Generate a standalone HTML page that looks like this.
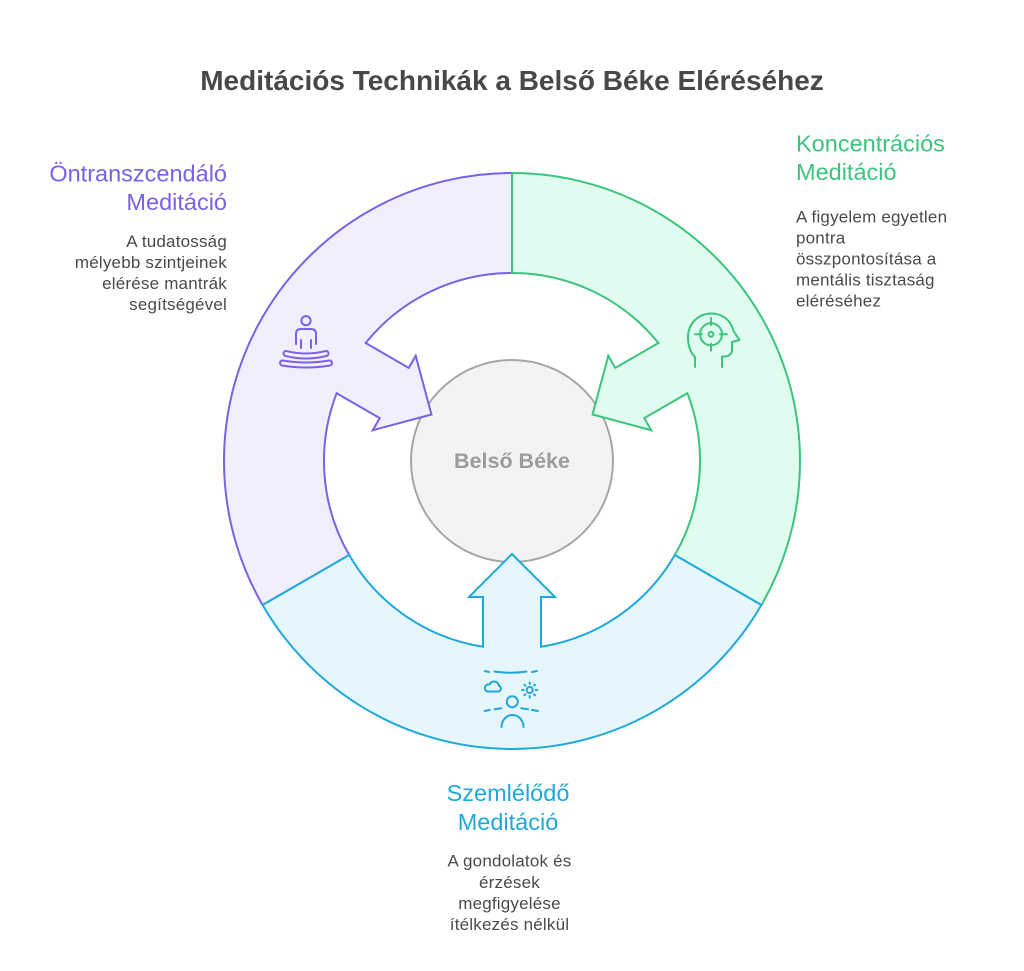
<!DOCTYPE html>
<html>
<head>
<meta charset="utf-8">
<style>
  html,body{margin:0;padding:0;background:#ffffff;}
  svg{display:block;}
  text{font-family:"Liberation Sans", Arial, sans-serif;}
</style>
</head>
<body>
<svg width="1024" height="971" viewBox="0 0 1024 971" xmlns="http://www.w3.org/2000/svg">
  <rect width="1024" height="971" fill="#ffffff"/>

  <!-- Title -->
  <text x="512" y="90" text-anchor="middle" font-size="28" font-weight="bold" fill="#484848">Meditációs Technikák a Belső Béke Eléréséhez</text>

  <!-- Center circle -->
  <circle cx="512" cy="461" r="101" fill="#F3F3F3" stroke="#A6A6A6" stroke-width="2"/>

  <!-- Purple segment -->
  <path d="M 512 173 A 288 288 0 0 0 262.6 605 L 349.2 555 A 188 188 0 0 1 336.64 393.2 L 379.72 418.11 L 372.72 430.24 L 431.46 414.5 L 415.72 355.76 L 408.72 367.89 L 365.64 343.0 A 188 188 0 0 1 512 273 Z"
        fill="#F1EEFD" stroke="#7B60E8" stroke-width="2" stroke-linejoin="miter"/>

  <!-- Green segment -->
  <path d="M 512 173 A 288 288 0 0 1 761.4 605 L 674.8 555 A 188 188 0 0 0 687.36 393.2 L 644.28 418.11 L 651.28 430.24 L 592.54 414.5 L 608.28 355.76 L 615.28 367.89 L 658.36 343.0 A 188 188 0 0 0 512 273 Z"
        fill="#E0FBEF" stroke="#3CC47E" stroke-width="2" stroke-linejoin="miter"/>

  <!-- Blue segment -->
  <path d="M 262.6 605 A 288 288 0 0 0 761.4 605 L 674.8 555 A 188 188 0 0 1 541 646.75 L 541 597 L 555 597 L 512 554 L 469 597 L 483 597 L 483 646.75 A 188 188 0 0 1 349.2 555 Z"
        fill="#E6F6FD" stroke="#1DA9D9" stroke-width="2" stroke-linejoin="miter"/>

  <!-- Center label -->
  <text x="512" y="468" text-anchor="middle" font-size="21.5" font-weight="bold" fill="#9C9C9C">Belső Béke</text>

  <!-- Purple icon -->
  <g fill="none" stroke="#7B60E8" stroke-width="2" stroke-linecap="round" stroke-linejoin="round">
    <circle cx="306" cy="320.7" r="4.6"/>
    <path d="M 296 344 V 334 Q 296 329 301 329 H 311 Q 316 329 316 334 V 344"/>
    <path d="M 301 340 V 348"/>
    <path d="M 311 340 V 348"/>
  </g>
  <g fill="none" stroke-linecap="round">
    <path d="M 286 353.5 Q 306 358.5 326 353.5" stroke="#7B60E8" stroke-width="7"/>
    <path d="M 286 353.5 Q 306 358.5 326 353.5" stroke="#F1EEFD" stroke-width="3"/>
    <path d="M 282.5 363 Q 306 367 329.5 363" stroke="#7B60E8" stroke-width="7"/>
    <path d="M 282.5 363 Q 306 367 329.5 363" stroke="#F1EEFD" stroke-width="3"/>
  </g>

  <!-- Green icon -->
  <g fill="none" stroke="#3CC47E" stroke-width="2" stroke-linecap="round" stroke-linejoin="round">
    <path d="M 695 367 V 357 C 690 352 688 345 688 337 C 688 324 698 313.5 711.5 313.5 C 722 313.5 731 320 733.5 331 L 739.5 340 L 732 342 V 350 C 732 354 728.5 356.5 724.5 356.5 L 722 356.5 V 367"/>
    <circle cx="711" cy="334.3" r="11"/>
    <circle cx="711" cy="334.3" r="2.4"/>
    <path d="M 711 318 V 325"/>
    <path d="M 711 343.6 V 350.6"/>
    <path d="M 695 334.3 H 702"/>
    <path d="M 720 334.3 H 727"/>
  </g>

  <!-- Blue icon -->
  <g fill="none" stroke="#1DA9D9" stroke-width="2" stroke-linecap="round" stroke-linejoin="round">
    <path d="M 494.5 671.5 Q 510.5 674 526.5 671.5"/>
    <path d="M 484.7 671 L 489 672"/>
    <path d="M 532 672 L 537 671"/>
    <path d="M 487.5 691.5 H 498.5 A 3 3 0 0 0 499 685.8 A 5 5 0 0 0 489.5 684.5 A 3.5 3.5 0 0 0 487.5 691.5 Z"/>
    <circle cx="529.7" cy="690" r="3"/>
    <path d="M 529.7 682.5 V 684"/>
    <path d="M 529.7 696 V 697.5"/>
    <path d="M 522.2 690 H 523.7"/>
    <path d="M 535.7 690 H 537.2"/>
    <path d="M 524.4 684.7 L 525.4 685.7"/>
    <path d="M 534 694.3 L 535 695.3"/>
    <path d="M 535 684.7 L 534 685.7"/>
    <path d="M 525.4 694.3 L 524.4 695.3"/>
    <circle cx="512.3" cy="701.7" r="5.5"/>
    <path d="M 501.5 727 A 11 12 0 0 1 523.5 727"/>
    <path d="M 484.7 711 L 489.7 710"/>
    <path d="M 494.7 709.3 L 501.3 708.3"/>
    <path d="M 521.3 708.3 L 528 709.3"/>
    <path d="M 532 710 L 538 711"/>
  </g>

  <!-- Purple labels -->
  <g fill="#7B60E8" font-size="23.5" text-anchor="end">
    <text x="227" y="181.5">Öntranszcendáló</text>
    <text x="227" y="210">Meditáció</text>
  </g>
  <g fill="#4A4A4A" font-size="17" letter-spacing="0.2" text-anchor="end">
    <text x="227" y="247">A tudatosság</text>
    <text x="227" y="268">mélyebb szintjeinek</text>
    <text x="227" y="289">elérése mantrák</text>
    <text x="227" y="310">segítségével</text>
  </g>

  <!-- Green labels -->
  <g fill="#3CC47E" font-size="23.5">
    <text x="796" y="151.5">Koncentrációs</text>
    <text x="796" y="180">Meditáció</text>
  </g>
  <g fill="#4A4A4A" font-size="17" letter-spacing="0.2">
    <text x="796" y="222.3">A figyelem egyetlen</text>
    <text x="796" y="243.4">pontra</text>
    <text x="796" y="264.5">összpontosítása a</text>
    <text x="796" y="285.6">mentális tisztaság</text>
    <text x="796" y="306.7">eléréséhez</text>
  </g>

  <!-- Blue labels -->
  <g fill="#1DA9D9" font-size="23.5" text-anchor="middle">
    <text x="508" y="801">Szemlélődő</text>
    <text x="508" y="830">Meditáció</text>
  </g>
  <g fill="#4A4A4A" font-size="17" letter-spacing="0.2" text-anchor="middle">
    <text x="509.5" y="866.7">A gondolatok és</text>
    <text x="509.5" y="887.8">érzések</text>
    <text x="509.5" y="908.9">megfigyelése</text>
    <text x="509.5" y="930">ítélkezés nélkül</text>
  </g>
</svg>
</body>
</html>
